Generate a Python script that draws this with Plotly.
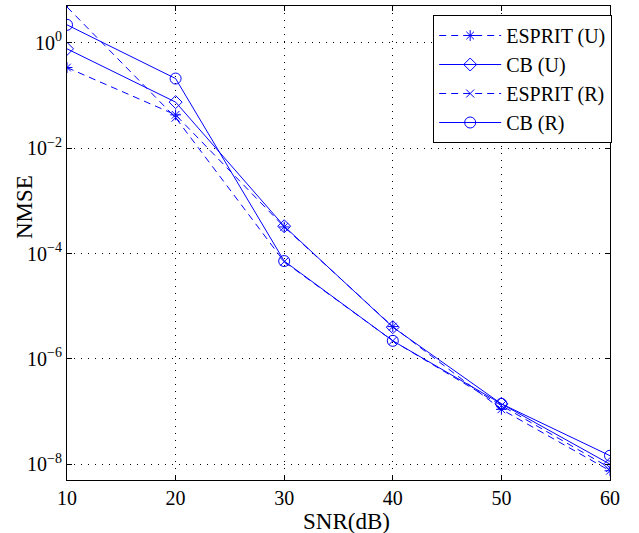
import plotly.graph_objects as go

snr = [10, 20, 30, 40, 50, 60]
esprit_u = [0.34, 0.043, 3.2e-4, 4.1e-6, 1.1e-7, 7.5e-9]
cb_u = [0.77, 0.075, 3.3e-4, 4.0e-6, 1.4e-7, 1.0e-8]
esprit_r = [4.8, 0.038, 7.0e-5, 2.2e-6, 1.3e-7, 8.5e-9]
cb_r = [2.2, 0.21, 7.2e-5, 2.2e-6, 1.4e-7, 1.45e-8]

names = ["ESPRIT (U)", "CB (U)", "ESPRIT (R)", "CB (R)"]
series = [esprit_u, cb_u, esprit_r, cb_r]
symbols = ["asterisk-open", "diamond-open", "x-thin-open", "circle-open"]
dashes = ["7px,5px", "solid", "7px,5px", "solid"]
sizes = [9, 10, 8, 11]

blue = "#0000FF"
fig = go.Figure()
for n, s, sym, d, sz in zip(names, series, symbols, dashes, sizes):
    fig.add_trace(go.Scatter(
        x=snr, y=s, name=n, mode="lines+markers",
        line=dict(color=blue, width=1, dash=d),
        marker=dict(symbol=sym, size=sz, color=blue, line=dict(color=blue, width=1)),
    ))

font = "'Liberation Serif', 'Times New Roman', Times, serif"
fig.update_layout(
    width=639, height=533,
    margin=dict(l=67, r=29, t=6, b=53),
    plot_bgcolor="white", paper_bgcolor="white",
    font=dict(family=font, size=20, color="black"),
    showlegend=True,
    legend=dict(
        x=1.004, xanchor="right", y=0.981, yanchor="top",
        bgcolor="white", bordercolor="black", borderwidth=1,
        font=dict(family=font, size=20, color="black"),
        itemwidth=62, tracegroupgap=0,
    ),
    annotations=[
        dict(text="NMSE", xref="paper", yref="paper", x=-0.0773, y=0.576,
             xanchor="center", yanchor="middle", textangle=-90, showarrow=False,
             font=dict(family=font, size=23, color="black")),
        dict(text="SNR(dB)", xref="paper", yref="paper", x=0.514, y=-0.0865,
             xanchor="center", yanchor="middle", showarrow=False,
             font=dict(family=font, size=23, color="black")),
    ],
)
fig.update_xaxes(
    range=[10, 60], tickvals=[10, 20, 30, 40, 50, 60],
    showgrid=True, gridcolor="black", griddash="1px,6px", gridwidth=1,
    showline=True, linecolor="black", linewidth=1, mirror="ticks",
    ticks="inside", ticklen=5, tickcolor="black",
    tickfont=dict(family=font, size=20),
    zeroline=False, automargin=False,
)
fig.update_yaxes(
    type="log", range=[-8.3, 0.7],
    tickvals=[1e-8, 1e-6, 1e-4, 1e-2, 1],
    ticktext=["10<sup>−8</sup>", "10<sup>−6</sup>", "10<sup>−4</sup>", "10<sup>−2</sup>", "10<sup>0</sup>"],
    showgrid=True, gridcolor="black", griddash="1px,6px", gridwidth=1,
    showline=True, linecolor="black", linewidth=1, mirror="ticks",
    ticks="inside", ticklen=5, tickcolor="black",
    tickfont=dict(family=font, size=20),
    zeroline=False, automargin=False,
)
fig.write_html("out.html", config={"displayModeBar": False},
               post_script="document.body.style.margin='0';")
